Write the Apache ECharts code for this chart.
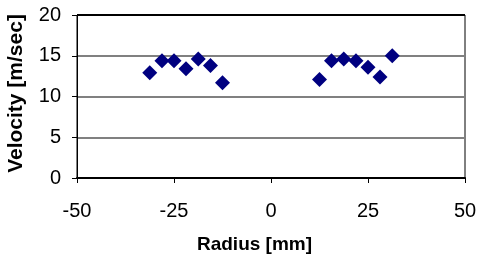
<!DOCTYPE html>
<html>
<head>
<meta charset="utf-8">
<script src="https://cdn.jsdelivr.net/npm/echarts@6/dist/echarts.min.js"></script>
<style>
html, body { margin: 0; padding: 0; background: #fff; }
#chart { width: 482px; height: 255px; }
</style>
</head>
<body>
<div id="chart"></div>
<script>
// radius positions [mm] and measured velocity [m/sec]
var radius = [-31.25, -28.1, -25, -21.9, -18.75, -15.6, -12.5,
	12.5, 15.6, 18.75, 21.9, 25, 28.1, 31.25];
var velocity = [12.9, 14.4, 14.4, 13.4, 14.6, 13.8, 11.7,
	12.1, 14.4, 14.6, 14.4, 13.6, 12.4, 15.0];
var xTicks = [-50, -25, 0, 25, 50];
var yTicks = [0, 5, 10, 15, 20];

var points = [];
for (var i = 0; i < radius.length; i++) {
	points.push([radius[i], velocity[i]]);
}

var chart = echarts.init(document.getElementById('chart'));
var font = 'Liberation Sans, Arial, sans-serif';

chart.setOption({
	animation: false,
	backgroundColor: '#fff',
	grid: {
		left: 77,
		right: 17,
		top: 15,
		bottom: 77,
		outerBoundsMode: 'none',
		containLabel: false,
		show: true,
		borderColor: '#000',
		borderWidth: 1
	},
	xAxis: {
		type: 'value',
		min: xTicks[0],
		max: xTicks[xTicks.length - 1],
		interval: 25,
		name: 'Radius [mm]',
		nameLocation: 'middle',
		nameGap: 57,
		nameTextStyle: {
			fontFamily: font,
			fontWeight: 'bold',
			fontSize: 19,
			color: '#000',
			padding: [0, 33, 0, 0]
		},
		axisLine: { onZero: false, lineStyle: { color: '#000', width: 2 } },
		axisTick: { length: 5, lineStyle: { color: '#000' } },
		axisLabel: { fontFamily: font, fontSize: 20, color: '#000', margin: 23 },
		splitLine: { show: false }
	},
	yAxis: {
		type: 'value',
		min: yTicks[0],
		max: yTicks[yTicks.length - 1],
		interval: 5,
		name: 'Velocity [m/sec]',
		nameLocation: 'middle',
		nameGap: 50,
		nameTextStyle: {
			fontFamily: font,
			fontWeight: 'bold',
			fontSize: 21,
			color: '#000',
			padding: [0, 0, 0, 6]
		},
		axisLine: { show: true, onZero: false, lineStyle: { color: '#000', width: 1 } },
		axisTick: { show: true, length: 5, lineStyle: { color: '#000' } },
		axisLabel: { fontFamily: font, fontSize: 20, color: '#000', margin: 16 },
		splitLine: {
			show: true,
			lineStyle: { color: ['#000', '#808080', '#808080', '#808080', '#000'], width: 2 }
		}
	},
	series: [{
		type: 'scatter',
		data: points,
		symbol: 'diamond',
		symbolSize: 15,
		itemStyle: { color: '#000080', opacity: 1 }
	}]
});
</script>
</body>
</html>
